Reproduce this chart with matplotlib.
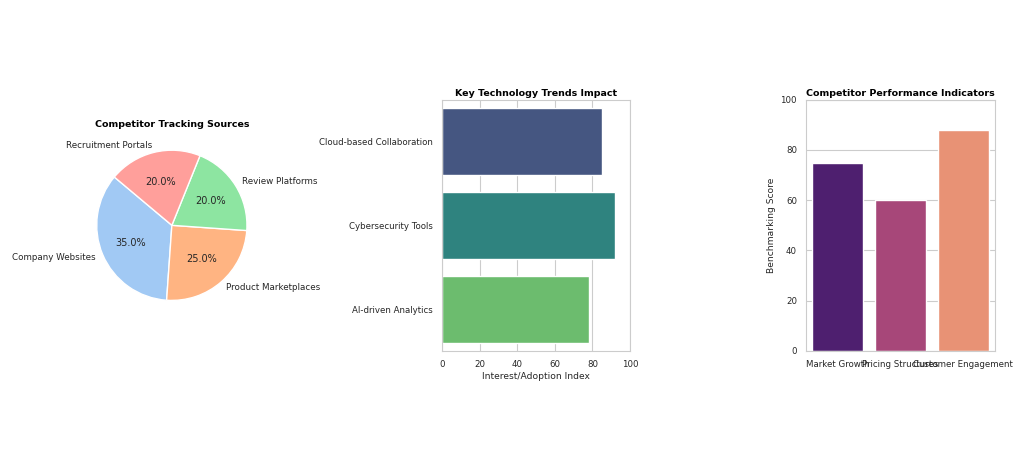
import matplotlib
matplotlib.use('Agg')
import matplotlib.pyplot as plt
import seaborn as sns

# Data
pie_labels = ['Company Websites', 'Product Marketplaces', 'Review Platforms', 'Recruitment Portals']
pie_sizes = [35, 25, 20, 20]

trend_names = ['Cloud-based Collaboration', 'Cybersecurity Tools', 'AI-driven Analytics']
trend_values = [85, 92, 78]

indicator_names = ['Market Growth', 'Pricing Structures', 'Customer Engagement']
indicator_scores = [75, 60, 88]

sns.set_style('whitegrid')
plt.rcParams['font.family'] = ['DejaVu Sans']
text_col = '.15'

fig = plt.figure(figsize=(10.26, 4.66), dpi=100)
ax1 = fig.add_axes([0.076, 0.247, 0.183, 0.539])
ax2 = fig.add_axes([0.431, 0.247, 0.183, 0.539])
ax3 = fig.add_axes([0.7856, 0.247, 0.184, 0.539])

# Pie chart
wedges, texts, autotexts = ax1.pie(
    pie_sizes, labels=pie_labels, autopct='%1.1f%%', startangle=140,
    colors=sns.color_palette('pastel', 4),
    wedgeprops={'edgecolor': 'white', 'linewidth': 1},
    textprops={'fontsize': 6.3, 'color': text_col})
for t in autotexts:
    t.set_fontsize(7)
ax1.set_title('Competitor Tracking Sources', fontsize=6.8, fontweight='bold', color='black', pad=3)

# Horizontal bar chart
pal2 = sns.color_palette('viridis', 3, desat=0.75)
ax2.barh(range(len(trend_names)), trend_values, height=0.8, color=pal2, zorder=2)
ax2.set_yticks(range(len(trend_names)))
ax2.set_yticklabels(trend_names)
ax2.set_ylim(2.5, -0.5)
ax2.set_xlim(0, 100)
ax2.set_xlabel('Interest/Adoption Index', fontsize=6.6, color=text_col, labelpad=2)
ax2.set_title('Key Technology Trends Impact', fontsize=6.8, fontweight='bold', color='black', pad=3)
ax2.grid(axis='y', visible=False)
ax2.tick_params(axis='both', labelsize=6.2, colors=text_col, pad=3)

# Vertical bar chart
pal3 = sns.color_palette('magma', 3, desat=0.75)
ax3.bar(range(len(indicator_names)), indicator_scores, width=0.8, color=pal3, zorder=2)
ax3.set_xticks(range(len(indicator_names)))
ax3.set_xticklabels(indicator_names)
ax3.set_xlim(-0.5, 2.5)
ax3.set_ylim(0, 100)
ax3.set_ylabel('Benchmarking Score', fontsize=6.6, color=text_col, labelpad=3)
ax3.set_title('Competitor Performance Indicators', fontsize=6.8, fontweight='bold', color='black', pad=3)
ax3.grid(axis='x', visible=False)
ax3.tick_params(axis='both', labelsize=6.2, colors=text_col, pad=3)

for ax in (ax2, ax3):
    for s in ax.spines.values():
        s.set_color('.8')

plt.savefig('out.png', dpi=100)
